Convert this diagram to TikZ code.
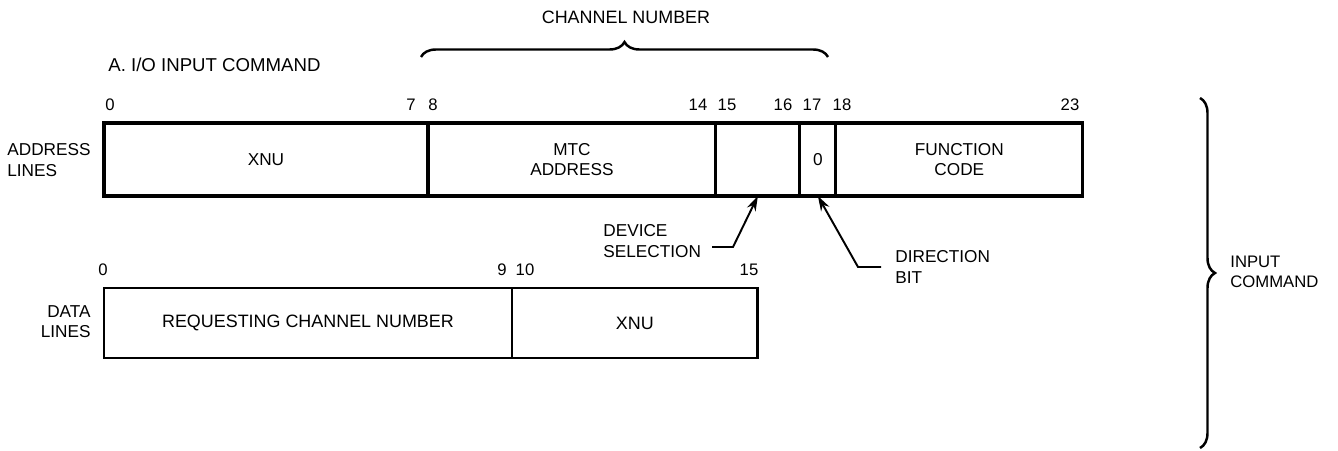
\documentclass[tikz,border=0pt]{standalone}
\usepackage{fontspec}
\setmainfont{Liberation Sans}
\usepackage{tikz}
\usetikzlibrary{arrows.meta,positioning,decorations.pathreplacing}
\tikzset{
  cmdfield/.style={draw,line width=1.8pt,inner sep=0pt,outer sep=0pt,align=center,font=\fontsize{9.8}{11.5}\selectfont,minimum height=14.6mm},
  datafield/.style={cmdfield,line width=1.6pt,font=\fontsize{10.2}{12}\selectfont,minimum height=14mm},
  cmdbit/.style={font=\fontsize{9.5}{11}\selectfont,inner sep=0pt},
  cmdtext/.style={font=\fontsize{9.8}{11.5}\selectfont,inner sep=0pt},
  cmdflow/.style={-{Stealth[length=3mm,width=1.9mm]},line width=1.1pt},
  cmdbrace/.style={decorate,decoration={brace,amplitude=3mm},line width=1.4pt},
}
\begin{document}
\begin{tikzpicture}[x=0.02cm,y=-0.02cm,node distance=0pt]
\useasboundingbox (0,0) rectangle (1338,450);
\node[cmdtext,font=\fontsize{10.6}{12}\selectfont,anchor=west] (title) at (108,65) {A. I/O INPUT COMMAND};
\node[cmdtext,font=\fontsize{10.2}{12}\selectfont] (chan) at (626,17) {CHANNEL NUMBER};
\coordinate (chanl) at (421,57); \coordinate (chanr) at (828,57);
\draw[cmdbrace] (chanl) -- (chanr);
% address lines
\node[cmdtext,align=left,anchor=west] (addr) at (7,160) {ADDRESS\\LINES};
\node[cmdfield,minimum width=64.8mm,anchor=north west] (axnu) at (104,123) {XNU};
\node[cmdfield,minimum width=57.6mm,right=of axnu] (mtc) {MTC\\ADDRESS};
\node[cmdfield,minimum width=16.8mm,right=of mtc] (dev) {};
\node[cmdfield,minimum width=7.2mm,right=of dev] (dir) {0};
\node[cmdfield,minimum width=49.4mm,right=of dir] (fcode) {FUNCTION\\CODE};
\foreach \x/\n in {110/0,411/7,433/8,698/14,727/15,783/16,812/17,842/18,1070/23}
  \node[cmdbit] (abit\n) at (\x,105) {\n};
\node[cmdtext,align=left,anchor=west] (devlbl) at (603,241) {DEVICE\\SELECTION};
\coordinate (devstart) at (712,247); \coordinate (devknee) at (733,247);
\draw[cmdflow] (devstart) -- (devknee) -- (dev.south);
\node[cmdtext,align=left,anchor=west] (dirlbl) at (895,267) {DIRECTION\\BIT};
\coordinate (dirstart) at (881,267); \coordinate (dirknee) at (858,267);
\draw[cmdflow] (dirstart) -- (dirknee) -- (dir.south);
% data lines
\node[cmdtext,align=right,anchor=east] (datal) at (91,322) {DATA\\LINES};
\node[datafield,minimum width=81.6mm,anchor=north west] (req) at (104,288) {REQUESTING CHANNEL NUMBER};
\node[datafield,minimum width=49.2mm,right=of req] (dxnu) {XNU};
\foreach \x/\n in {103/0,502/9,525/10,749/15}
  \node[cmdbit] (dbit\n) at (\x,270) {\n};
% whole command
\coordinate (cmdtop) at (1200,98); \coordinate (cmdbot) at (1200,448);
\draw[cmdbrace] (cmdtop) -- (cmdbot);
\node[cmdtext,font=\fontsize{9.5}{11.5}\selectfont,align=left,anchor=west] (inlbl) at (1230,272) {INPUT\\COMMAND};
\end{tikzpicture}
\end{document}
